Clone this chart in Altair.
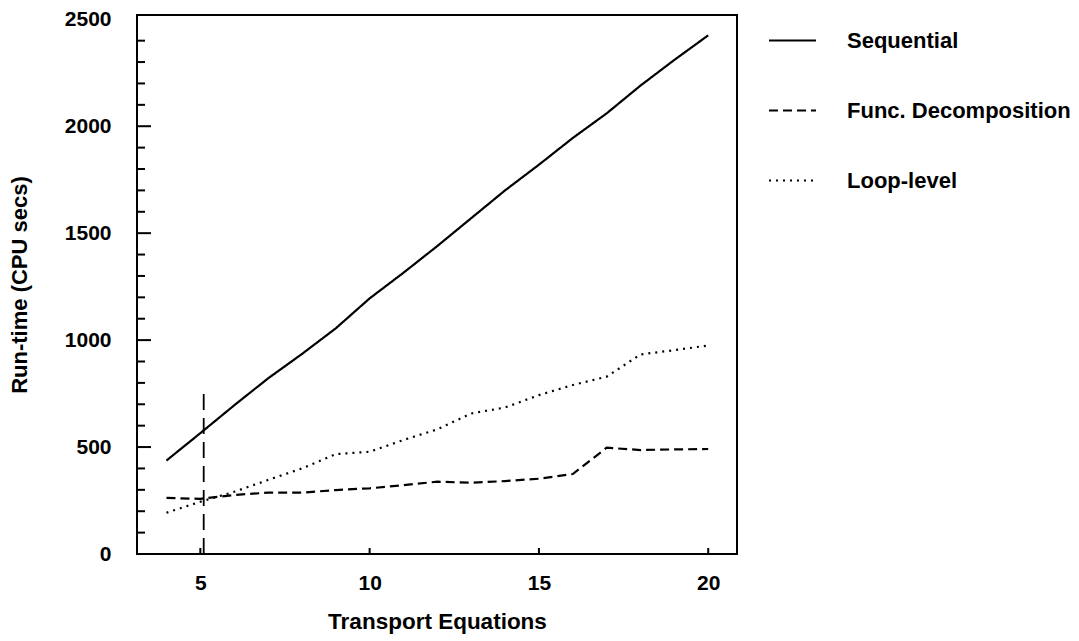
import altair as alt
import pandas as pd

# ---- data ----
equations = [4, 5, 6, 7, 8, 9, 10, 11, 12, 13, 14, 15, 16, 17, 18, 19, 20]
sequential = [437, 565, 695, 821, 935, 1055, 1195, 1315, 1440, 1570, 1700, 1820, 1945, 2060, 2190, 2310, 2425]
func_decomp = [262, 258, 276, 287, 287, 299, 307, 322, 338, 333, 341, 352, 374, 497, 486, 489, 491]
loop_level = [193, 244, 291, 346, 400, 467, 478, 533, 583, 657, 685, 743, 790, 829, 933, 953, 975]

series_names = ["Sequential", "Func. Decomposition", "Loop-level"]

marker_x = [5.1]
marker_y0 = [0]
marker_y1 = [750]

x_tick_values = [5, 10, 15, 20]
y_label_values = [0, 500, 1000, 1500, 2000, 2500]
y_major_ticks = [500, 1000, 1500, 2000]
y_minor_ticks = [100, 200, 300, 400, 600, 700, 800, 900, 1100, 1200, 1300, 1400,
                 1600, 1700, 1800, 1900, 2100, 2200, 2300, 2400]

rows = []
for name, vals in zip(series_names, [sequential, func_decomp, loop_level]):
    for x, v in zip(equations, vals):
        rows.append({"eq": x, "runtime": v, "method": name})
df = pd.DataFrame(rows)

FONT = "Liberation Sans"
W, H = 600, 539

xscale = alt.Scale(domain=[3.13, 20.85], nice=False, zero=False)
yscale = alt.Scale(domain=[0, 2520], nice=False)

lines = alt.Chart(df).mark_line(color="black", strokeWidth=2.2).encode(
    x=alt.X("eq:Q", scale=xscale,
            axis=alt.Axis(values=x_tick_values, format="d", title="Transport Equations", ticks=False,
                          domain=False, grid=False, labelPadding=18, titlePadding=17,
                          titleFontSize=22.5)),
    y=alt.Y("runtime:Q", scale=yscale,
            axis=alt.Axis(values=y_label_values, format="d", title="Run-time (CPU secs)", ticks=False,
                          domain=False, grid=False, labelPadding=26, titlePadding=33,
                          titleFontSize=22)),
    strokeDash=alt.StrokeDash(
        "method:N",
        scale=alt.Scale(domain=series_names, range=[[1, 0], [9, 5], [2, 5]]),
        legend=alt.Legend(title=None, orient="none", legendX=631, legendY=1,
                          symbolType="stroke", symbolSize=2209, symbolStrokeWidth=2,
                          symbolStrokeColor="black", labelFont=FONT, labelFontSize=22,
                          labelFontWeight="bold", labelColor="black", labelOffset=30,
                          rowPadding=34, labelLimit=400),
    ),
    order=alt.Order("eq:Q"),
)

marker = alt.Chart(pd.DataFrame({"x": marker_x, "y0": marker_y0, "y1": marker_y1})).mark_rule(
    color="black", strokeWidth=1.8, strokeDash=[16, 8]
).encode(x=alt.X("x:Q", scale=xscale), y=alt.Y("y0:Q", scale=yscale), y2="y1:Q")

ymaj = alt.Chart(pd.DataFrame({"v": y_major_ticks})).mark_rule(color="black", strokeWidth=2).encode(
    y=alt.Y("v:Q", scale=yscale), x=alt.value(0), x2=alt.value(14))
ymin = alt.Chart(pd.DataFrame({"v": y_minor_ticks})).mark_rule(color="black", strokeWidth=2).encode(
    y=alt.Y("v:Q", scale=yscale), x=alt.value(0), x2=alt.value(8))
xt = alt.Chart(pd.DataFrame({"v": x_tick_values})).mark_rule(color="black", strokeWidth=2).encode(
    x=alt.X("v:Q", scale=xscale), y=alt.value(H), y2=alt.value(H - 6))

chart = alt.layer(lines, marker, ymaj, ymin, xt).properties(
    width=W, height=H,
    autosize=alt.AutoSizeParams(type="none"),
    padding={"left": 137, "top": 15, "right": 342, "bottom": 87},
    background="white",
).configure_view(
    stroke="black", strokeWidth=2
).configure_axis(
    labelFont=FONT, labelFontSize=21, labelFontWeight="bold", labelColor="black",
    titleFont=FONT, titleFontSize=21, titleFontWeight="bold", titleColor="black",
)

chart.save("out.html", embed_options={"renderer": "svg", "actions": False})
